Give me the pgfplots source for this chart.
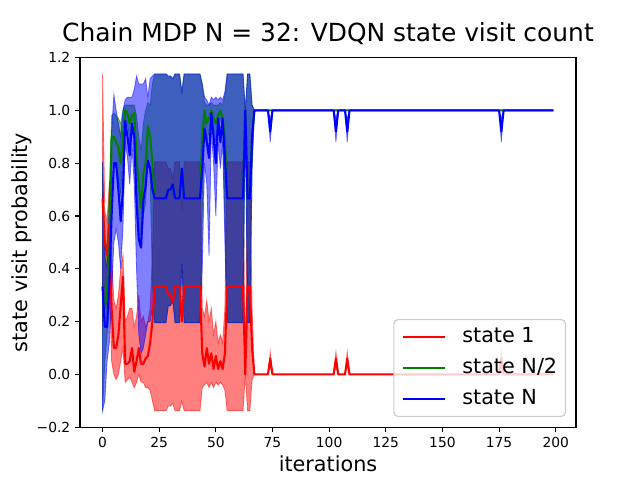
\documentclass[border=0pt]{standalone}
\usepackage{fontspec}
\setmainfont{DejaVu Sans}
\usepackage{pgfplots}
\pgfplotsset{compat=1.18}
\usepackage{pgfplotstable}
\usepgfplotslibrary{fillbetween}
\definecolor{mplgreen}{rgb}{0,0.5,0}

% state 1: iteration, mean, mean-std, mean+std
\pgfplotstableread{
i m lo hi
0 0.667 0.196 1.138
1 0.50 0.30 0.62
2 0.45 0.25 0.58
3 0.57 0.38 0.73
4 0.25 0.05 0.45
5 0.10 0.00 0.28
6 0.10 -0.02 0.25
7 0.15 0.00 0.30
8 0.26 0.05 0.40
9 0.37 0.10 0.45
10 0.04 -0.03 0.20
11 0.04 -0.02 0.22
12 0.05 -0.01 0.25
13 0.10 -0.03 0.25
14 0.01 -0.05 0.18
15 0.05 -0.03 0.22
16 0.10 0.00 0.30
17 0.04 -0.03 0.20
18 0.04 -0.03 0.22
19 0.06 -0.05 0.18
20 0.07 -0.05 0.20
21 0.12 -0.06 0.25
22 0.20 -0.10 0.45
23 0.333 -0.138 0.805
28 0.333 -0.138 0.805
29 0.30 -0.12 0.78
30 0.30 -0.12 0.78
31 0.27 -0.11 0.74
32 0.333 -0.138 0.805
34 0.333 -0.138 0.805
35 0.20 -0.10 0.62
36 0.333 -0.138 0.805
43 0.333 -0.138 0.805
44 0.08 -0.05 0.25
45 0.03 -0.04 0.22
46 0.10 -0.03 0.28
47 0.04 -0.05 0.20
48 0.08 -0.03 0.25
49 0.02 -0.05 0.15
50 0.07 -0.03 0.20
51 0.02 -0.04 0.12
52 0.05 -0.03 0.15
53 0.02 -0.04 0.12
54 0.08 -0.06 0.25
55 0.333 -0.138 0.805
62 0.333 -0.138 0.805
63 0.00 0.00 0.00
64 0.333 -0.138 0.805
65 0.333 -0.138 0.805
66 0.10 -0.02 0.25
67 0 0 0
73 0 0 0
74 0.06 0.03 0.085
75 0 0 0
102 0 0 0
103 0.06 0.03 0.085
104 0 0 0
107 0 0 0
108 0.06 0.03 0.085
109 0 0 0
175 0 0 0
176 0.06 0.03 0.085
177 0 0 0
199 0 0 0
}\redtab

% state N/2
\pgfplotstableread{
i m lo hi
0 0.333 -0.138 0.805
1 0.25 0.05 0.45
2 0.33 0.15 0.50
3 0.45 0.25 0.70
4 0.90 0.80 0.98
5 0.90 0.80 0.99
6 0.88 0.78 0.98
7 0.86 0.74 0.97
8 0.80 0.68 0.95
9 0.90 0.82 1.00
10 1.00 0.97 1.02
11 0.99 0.95 1.02
12 0.95 0.88 1.02
13 0.98 0.94 1.02
14 0.99 0.95 1.02
15 0.82 0.70 0.98
16 0.72 0.55 0.90
17 0.63 0.48 0.85
18 0.76 0.60 0.95
19 0.80 0.65 1.00
20 0.94 0.85 1.03
21 0.90 0.75 1.02
22 0.80 0.35 1.10
23 0.667 0.196 1.138
28 0.667 0.196 1.138
29 0.70 0.26 1.13
30 0.70 0.26 1.13
31 0.72 0.28 1.12
32 0.667 0.196 1.138
34 0.667 0.196 1.138
35 0.78 0.42 1.07
36 0.667 0.196 1.138
43 0.667 0.196 1.138
44 0.90 0.60 1.10
45 1.00 0.97 1.03
46 0.95 0.88 1.02
47 0.97 0.92 1.02
48 1.00 0.97 1.03
49 0.97 0.92 1.02
50 0.95 0.88 1.02
51 0.98 0.94 1.02
52 1.00 0.97 1.03
53 0.97 0.92 1.02
54 0.90 0.60 1.06
55 0.667 0.196 1.138
62 0.667 0.196 1.138
63 1.00 1.00 1.00
64 0.667 0.196 1.138
65 0.667 0.196 1.138
66 0.90 0.78 1.02
67 1 1 1
199 1 1 1
}\greentab

% state N
\pgfplotstableread{
i m lo hi
0 0.333 -0.138 0.805
1 0.18 -0.10 0.45
2 0.18 0.05 0.40
3 0.35 0.12 0.62
4 0.60 0.30 0.92
5 0.80 0.50 1.06
6 0.80 0.55 1.00
7 0.70 0.50 0.95
8 0.58 0.40 0.90
9 0.70 0.55 1.00
10 0.96 0.88 1.04
11 0.90 0.82 1.05
12 0.83 0.72 1.05
13 0.95 0.86 1.05
14 0.90 0.72 1.08
15 0.65 0.40 1.13
16 0.51 0.15 1.10
17 0.48 0.08 1.10
18 0.66 0.10 1.10
19 0.71 0.15 1.12
20 0.81 0.20 1.05
21 0.78 0.20 1.12
22 0.70 0.25 1.13
23 0.667 0.196 1.138
28 0.667 0.196 1.138
29 0.70 0.26 1.13
30 0.70 0.26 1.13
31 0.72 0.28 1.12
32 0.667 0.196 1.138
34 0.667 0.196 1.138
35 0.78 0.42 1.07
36 0.667 0.196 1.138
43 0.667 0.196 1.138
44 0.78 0.40 1.10
45 0.93 0.80 1.05
46 0.88 0.72 1.04
47 0.82 0.45 1.02
48 0.99 0.92 1.05
49 0.90 0.80 1.04
50 0.80 0.60 1.05
51 0.97 0.88 1.04
52 0.88 0.78 1.05
53 0.97 0.88 1.04
54 0.82 0.50 1.07
55 0.667 0.196 1.138
62 0.667 0.196 1.138
63 1.00 1.00 1.00
64 0.667 0.196 1.138
65 0.667 0.196 1.138
66 0.90 0.78 1.02
67 1 1 1
73 1 1 1
74 0.92 0.88 0.97
75 1 1 1
102 1 1 1
103 0.92 0.88 0.97
104 1 1 1
107 1 1 1
108 0.92 0.88 0.97
109 1 1 1
175 1 1 1
176 0.92 0.88 0.97
177 1 1 1
199 1 1 1
}\bluetab

\begin{document}
\begin{tikzpicture}
\begin{axis}[
  scale only axis, width=4.96in, height=3.696in,
  xmin=-9.95, xmax=208.95, ymin=-0.2, ymax=1.2,
  xtick={0,25,50,75,100,125,150,175,200},
  xticklabels={0,25,50,75,100,125,150,175,200},
  ytick={-0.2,0,0.2,0.4,0.6,0.8,1.0,1.2},
  yticklabels={−0.2,0.0,0.2,0.4,0.6,0.8,1.0,1.2},
  tick align=outside, xtick pos=bottom, ytick pos=left,
  major tick length=3.5pt,
  tick style={black, line width=0.8pt},
  axis line style={line width=0.8pt},
  ticklabel style={font=\fontsize{10pt}{12pt}\selectfont},
  title={Chain MDP N = 32: VDQN state visit count},
  title style={font=\fontsize{18pt}{21pt}\selectfont, at={(axis description cs:0.5,1.0206)}, anchor=base},
  xlabel={iterations},
  xlabel style={font=\fontsize{15pt}{18pt}\selectfont, at={(axis description cs:0.5,-0.1212)}, anchor=base},
  ylabel={state visit probability},
  ylabel style={font=\fontsize{15pt}{18pt}\selectfont, at={(axis description cs:-0.105,0.5)}, anchor=base},
  legend cell align=left,
  legend style={at={(axis description cs:0.98,0.0276)}, anchor=south east,
    font=\fontsize{15pt}{18pt}\selectfont, draw=black!20, line width=0.8pt,
    rounded corners=3pt, fill=white, fill opacity=0.8, text opacity=1,
    inner xsep=6pt, inner ysep=5pt, row sep=7.5pt, column sep=12pt,
    nodes={inner sep=0pt, text height=11.25pt, text depth=3.75pt}},
  legend image code/.code={\draw[#1, line width=1.5pt] (0pt,0.2pt) -- (30pt,0.2pt);},
]
% bands
\addplot[name path=rH, draw=none, forget plot] table[x=i, y=hi] {\redtab};
\addplot[name path=rL, draw=none, forget plot] table[x=i, y=lo] {\redtab};
\addplot[fill=red, fill opacity=0.5, draw=red, draw opacity=0.5, line width=0.6pt, forget plot] fill between[of=rH and rL];
\addplot[name path=gH, draw=none, forget plot] table[x=i, y=hi] {\greentab};
\addplot[name path=gL, draw=none, forget plot] table[x=i, y=lo] {\greentab};
\addplot[fill=mplgreen, fill opacity=0.5, draw=mplgreen, draw opacity=0.5, line width=0.6pt, forget plot] fill between[of=gH and gL];
\addplot[name path=bH, draw=none, forget plot] table[x=i, y=hi] {\bluetab};
\addplot[name path=bL, draw=none, forget plot] table[x=i, y=lo] {\bluetab};
\addplot[fill=blue, fill opacity=0.5, draw=blue, draw opacity=0.5, line width=0.6pt, forget plot] fill between[of=bH and bL];
% means
\addplot[red, line width=1.5pt, line join=round, no markers] table[x=i, y=m] {\redtab};
\addlegendentry{state 1}
\addplot[mplgreen, line width=1.5pt, line join=round, no markers] table[x=i, y=m] {\greentab};
\addlegendentry{state N/2}
\addplot[blue, line width=1.5pt, line join=round, no markers] table[x=i, y=m] {\bluetab};
\addlegendentry{state N}
\end{axis}
\pgfresetboundingbox
\path[use as bounding box] (-0.8in,-0.528in) rectangle (5.6in,4.272in);
\end{tikzpicture}
\end{document}
